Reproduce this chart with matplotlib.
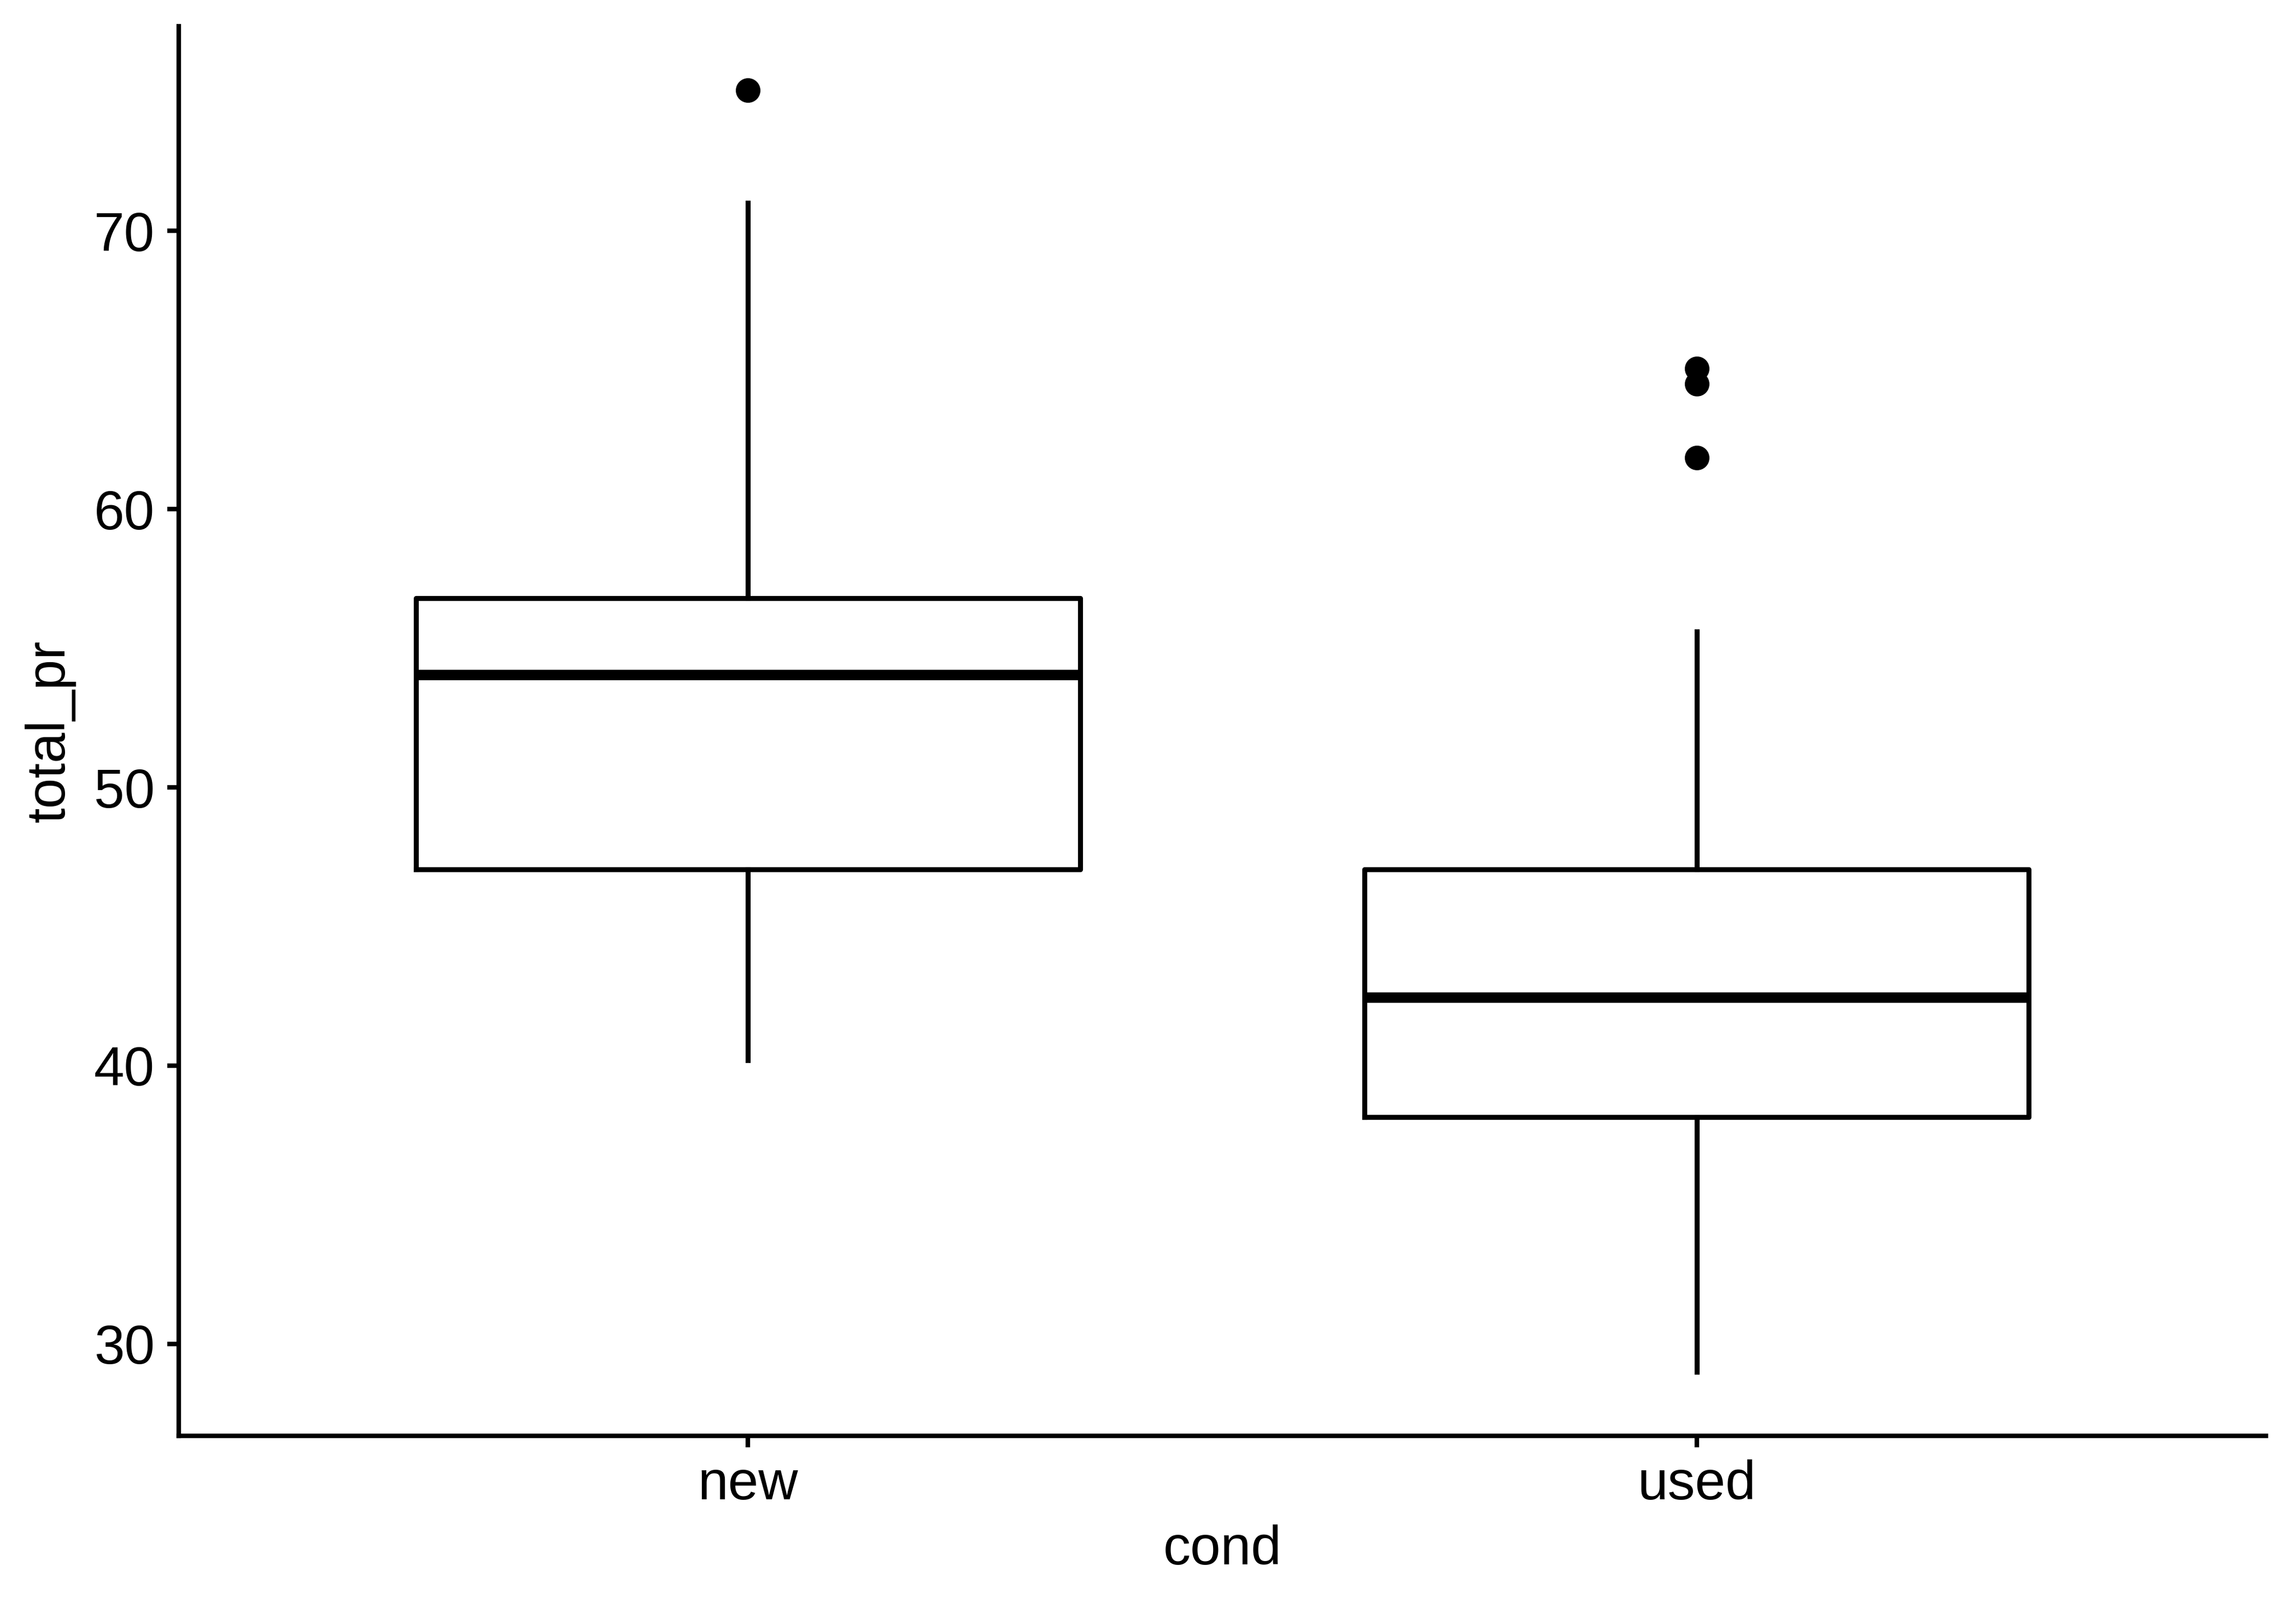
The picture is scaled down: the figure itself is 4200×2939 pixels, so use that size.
import matplotlib.pyplot as plt

# box statistics
conds = ['new', 'used']
whislo = [40.2, 29.0]
q1 = [47.05, 38.15]
med = [54.05, 42.45]
q3 = [56.8, 47.05]
whishi = [71.0, 55.6]
fliers = [[75.05], [61.85, 64.5, 65.05]]

plt.rcParams['font.family'] = ['Liberation Sans', 'DejaVu Sans']
plt.rcParams['font.size'] = 24

fig = plt.figure(figsize=(14, 2939 / 300), dpi=300)
ax = fig.add_axes([0.0778, 0.1066, 0.9092, 0.877])

stats = [dict(label=c, whislo=lo, q1=a, med=m, q3=b, whishi=hi, fliers=f)
         for c, lo, a, m, b, hi, f in zip(conds, whislo, q1, med, q3, whishi, fliers)]

lw = 2.2
ax.bxp(stats, positions=[1, 2], widths=0.7, showcaps=False,
       boxprops=dict(color='black', linewidth=lw),
       whiskerprops=dict(color='black', linewidth=lw),
       medianprops=dict(color='black', linewidth=4.6, solid_capstyle='butt'),
       flierprops=dict(marker='o', markersize=9.8, markerfacecolor='black',
                       markeredgecolor='black', linestyle='none'))

ax.set_xlim(0.4, 2.6)
ax.set_ylim(26.7, 77.35)
ax.set_yticks([30, 40, 50, 60, 70])
ax.set_xticks([1, 2])
ax.set_xticklabels(conds)

for side in ['top', 'right']:
    ax.spines[side].set_visible(False)
for side in ['left', 'bottom']:
    ax.spines[side].set_linewidth(2.0)
ax.tick_params(width=2.0, length=5, pad=5.5, labelsize=24, colors='black')

ax.set_xlabel('cond', fontsize=24, labelpad=6)
ax.set_ylabel('total_pr', fontsize=24, labelpad=8)

fig.savefig('out.png', dpi=300)
